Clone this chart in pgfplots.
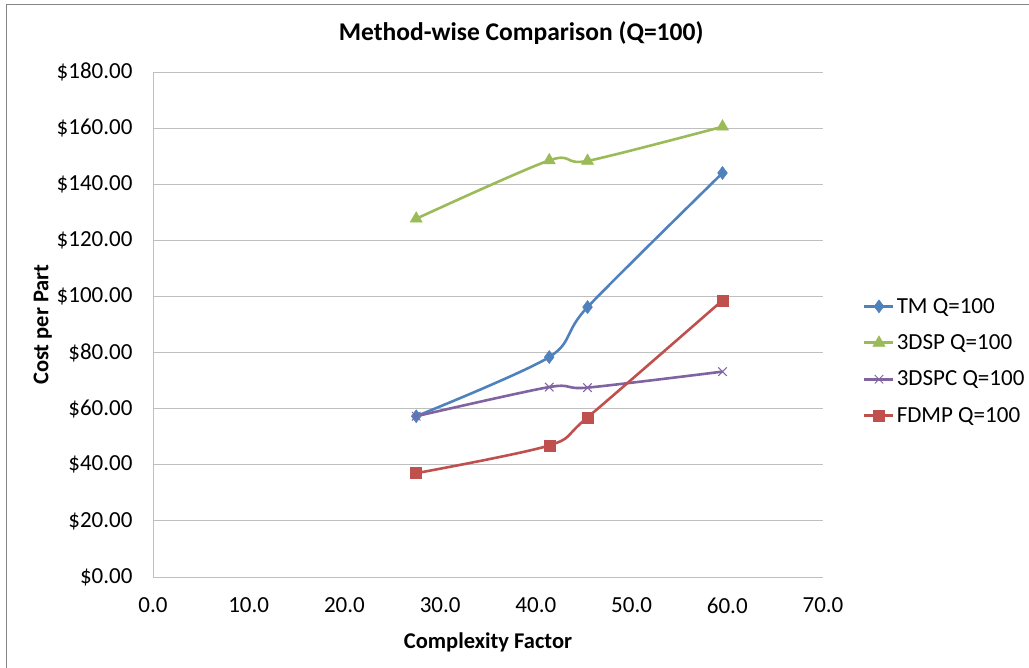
\documentclass[border=0pt]{standalone}
\usepackage{fontspec}
\setmainfont{Carlito}
\usepackage{pgfplots}
\pgfplotsset{compat=1.18}

\definecolor{tmblue}{HTML}{4F81BD}
\definecolor{spgreen}{HTML}{9BBB59}
\definecolor{spcpurple}{HTML}{8064A2}
\definecolor{fdmpred}{HTML}{C0504D}
\definecolor{gridgray}{HTML}{BFBFBF}
\definecolor{framegray}{HTML}{868686}

\begin{document}
\begin{tikzpicture}
% page area: 1029 x 668 units, plot area from (153,72) to (823,577) measured from the top-left corner
\useasboundingbox (-153pt,-91pt) rectangle (876pt,577pt);
% chart area frame (top and left edges)
\draw[framegray, line width=1pt] (-146pt,-91pt) -- (-146pt,572pt) -- (876pt,572pt);
\begin{axis}[
  at={(0pt,0pt)}, anchor=south west,
  scale only axis,
  width=670pt, height=505pt,
  xmin=0, xmax=70, ymin=0, ymax=180,
  xtick={0,10,...,70},
  ytick={0,20,...,180},
  major tick length=0pt,
  ymajorgrids,
  grid style={gridgray, line width=0.9pt},
  axis line style={gridgray, line width=0.9pt},
  axis x line*=bottom, axis y line*=left,
  tick label style={font=\fontsize{23}{27}\selectfont, text=black},
  /pgf/number format/assume math mode=true,
  xticklabel={\pgfmathprintnumber[fixed,fixed zerofill,precision=1]{\tick}},
  yticklabel={\$\pgfmathprintnumber[fixed,fixed zerofill,precision=2]{\tick}},
  xticklabel style={yshift=-17pt},
  yticklabel style={xshift=-17pt},
  xlabel={\textbf{Complexity Factor}},
  ylabel={\textbf{Cost per Part}},
  label style={font=\fontsize{22.5}{27}\selectfont},
  xlabel style={yshift=-13pt},
  ylabel style={yshift=-2pt},
  title={\textbf{Method-wise Comparison (Q=100)}},
  title style={font=\fontsize{25.5}{30}\selectfont, at={(0.5495,1)}, yshift=18pt},
  legend style={draw=none, fill=none, at={(1.0597,0.4277)}, anchor=west,
    inner sep=0pt, nodes={inner xsep=2pt, inner ysep=3pt},
    font=\fontsize{23}{27}\selectfont, row sep=14pt,
    legend cell align=left},
  legend image code/.code={
    \draw[#1, mark repeat=2, mark phase=2] plot coordinates {(0pt,0pt) (14.5pt,0pt) (29pt,0pt)};
  },
  every axis plot/.append style={line width=2.6pt, smooth, tension=0.5},
]
\addplot[tmblue, mark=diamond*, mark size=6.5pt, mark options={solid, line width=0.5pt}]
  coordinates {(27.5,57.3) (41.4,78.4) (45.4,96.2) (59.5,144.0)};
\addlegendentry{TM Q=100}
\addplot[spgreen, mark=triangle*, mark size=7pt, mark options={solid, line width=0.5pt}]
  coordinates {(27.5,127.7) (41.4,148.5) (45.4,148.3) (59.5,160.5)};
\addlegendentry{3DSP Q=100}
\addplot[spcpurple, mark=x, mark size=6pt, mark options={solid, line width=1pt}]
  coordinates {(27.5,57.3) (41.4,67.7) (45.4,67.5) (59.5,73.2)};
\addlegendentry{3DSPC Q=100}
\addplot[fdmpred, mark=square*, mark size=5.5pt, mark options={solid, line width=0.5pt}]
  coordinates {(27.5,37.0) (41.4,46.9) (45.4,56.9) (59.5,98.6)};
\addlegendentry{FDMP Q=100}
\end{axis}
\end{tikzpicture}
\end{document}
